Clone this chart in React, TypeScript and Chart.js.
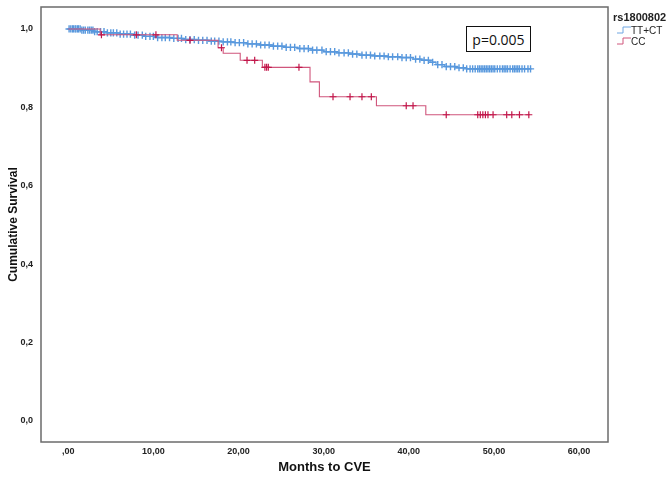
import React, { useEffect, useRef } from 'react';
import { Chart, registerables } from 'chart.js';
Chart.register(...registerables);

const xTickValues = [0, 10, 20, 30, 40, 50, 60];
const yTickValues = [0, 0.2, 0.4, 0.6, 0.8, 1.0];

const ttctTimes = [0, 1.5, 3, 4.5, 6, 7.5, 9, 10.5, 12, 13.5, 15, 16.5, 18, 19.5, 21, 22.5, 24, 25.5, 27, 28.5, 30, 31.5, 33, 34.5, 36, 37.5, 39, 40.5, 41.5, 42.5, 43.2, 44.2, 45.5, 46.8, 54.3];
const ttctSurv = [1.0, 0.997, 0.993, 0.99, 0.987, 0.984, 0.981, 0.978, 0.976, 0.973, 0.971, 0.969, 0.967, 0.965, 0.962, 0.959, 0.956, 0.953, 0.95, 0.946, 0.942, 0.939, 0.936, 0.933, 0.931, 0.929, 0.927, 0.923, 0.92, 0.915, 0.909, 0.904, 0.901, 0.898, 0.898];
const ttctCensor = [0.1, 0.3, 0.5, 0.6, 0.8, 0.9, 1.1, 1.2, 1.4, 1.6, 1.8, 2.0, 2.3, 2.5, 2.7, 2.9, 3.1, 3.4, 3.8, 4.2, 4.6, 5.0, 5.3, 5.7, 6.1, 6.5, 6.9, 7.3, 7.8, 8.2, 8.7, 9.1, 9.6, 10.0, 10.5, 11.0, 11.4, 11.9, 12.4, 12.9, 13.3, 13.8, 14.3, 14.8, 15.3, 15.8, 16.3, 16.8, 17.2, 17.7, 18.2, 18.7, 19.1, 19.6, 20.1, 20.6, 21.1, 21.6, 22.1, 22.6, 23.1, 23.6, 24.1, 24.6, 25.1, 25.6, 26.1, 26.6, 27.2, 27.7, 28.2, 28.7, 29.2, 29.8, 30.3, 30.8, 31.3, 31.8, 32.4, 32.9, 33.4, 33.9, 34.5, 35.0, 35.5, 36.0, 36.6, 37.1, 37.6, 38.1, 38.7, 39.2, 39.7, 40.2, 40.8, 41.3, 41.8, 42.3, 42.8, 43.4, 43.9, 44.4, 44.9, 45.4, 45.9, 46.4, 46.8, 47.2, 47.5, 47.8, 48.1, 48.3, 48.5, 48.7, 48.9, 49.1, 49.3, 49.5, 49.7, 49.9, 50.1, 50.4, 50.7, 51.0, 51.2, 51.4, 51.6, 51.9, 52.2, 52.4, 52.6, 52.8, 53.0, 53.3, 53.6, 54.0, 54.3];

const ccTimes = [0, 3.75, 12.8, 17.6, 18.2, 20.2, 22.8, 28.4, 29.5, 36.2, 42.0, 54.2];
const ccSurv = [1.0, 0.985, 0.971, 0.952, 0.938, 0.92, 0.902, 0.865, 0.827, 0.804, 0.781, 0.781];
const ccCensor = [3.9, 8.0, 10.3, 14.3, 18.0, 21.0, 21.9, 23.1, 23.3, 23.5, 27.1, 31.1, 33.1, 34.5, 35.6, 39.7, 40.5, 44.4, 48.1, 48.4, 48.7, 49.0, 49.3, 49.9, 51.5, 52.1, 53.0, 54.1];

const BLUE_LINE = '#6ea6e2';
const BLUE_MARK = '#5898dd';
const RED_LINE = '#d0567c';
const RED_MARK = '#c2164a';

function survAt(times: number[], surv: number[], t: number) {
  let v = surv[0];
  for (let i = 0; i < times.length; i++) {
    if (times[i] <= t) v = surv[i];
  }
  return v;
}

const framePlugin = {
  id: 'frame',
  afterDraw(chart: any) {
    const { ctx, chartArea } = chart;
    ctx.save();
    ctx.strokeStyle = '#6b6b6b';
    ctx.lineWidth = 1.5;
    ctx.strokeRect(chartArea.left, chartArea.top, chartArea.right - chartArea.left, chartArea.bottom - chartArea.top);
    ctx.restore();
  },
};

export default function App() {
  const ref = useRef<HTMLCanvasElement | null>(null);
  useEffect(() => {
    if (!ref.current) return;
    const tickFont = { family: "'Liberation Sans Narrow', 'Liberation Sans', Arial, sans-serif", size: 9, weight: 'bold' as const };
    const chart = new Chart(ref.current, {
      type: 'line',
      data: {
        datasets: [
          {
            label: 'CC censored',
            data: ccCensor.map((t) => ({ x: t, y: survAt(ccTimes, ccSurv, t) })),
            showLine: false,
            pointStyle: 'cross',
            pointRadius: 3.5,
            pointBorderWidth: 1.2,
            borderColor: RED_MARK,
            backgroundColor: RED_MARK,
            order: 0,
          },
          {
            label: 'CC',
            data: ccTimes.map((t, i) => ({ x: t, y: ccSurv[i] })),
            stepped: 'before',
            borderColor: RED_LINE,
            borderWidth: 1.1,
            pointRadius: 0,
            fill: false,
            order: 1,
          },
          {
            label: 'TT+CT censored',
            data: ttctCensor.map((t) => ({ x: t, y: survAt(ttctTimes, ttctSurv, t) })),
            showLine: false,
            pointStyle: 'cross',
            pointRadius: 3.6,
            pointBorderWidth: 1.4,
            borderColor: BLUE_MARK,
            backgroundColor: BLUE_MARK,
            order: 2,
          },
          {
            label: 'TT+CT',
            data: ttctTimes.map((t, i) => ({ x: t, y: ttctSurv[i] })),
            stepped: 'before',
            borderColor: BLUE_LINE,
            borderWidth: 1.3,
            pointRadius: 0,
            fill: false,
            order: 3,
          },
        ],
      },
      options: {
        animation: false,
        responsive: false,
        maintainAspectRatio: false,
        layout: { padding: { top: 7, right: 61, left: 0, bottom: 0 } },
        plugins: { legend: { display: false }, tooltip: { enabled: false } },
        scales: {
          x: {
            type: 'linear',
            min: -3.2,
            max: 63.4,
            grid: { display: false, drawTicks: false },
            border: { display: false },
            afterFit: (s: any) => { s.height = 39; s.paddingLeft = 0; s.paddingRight = 0; },
            afterBuildTicks: (s: any) => { s.ticks = xTickValues.map((v) => ({ value: v })); },
            ticks: {
              padding: 4,
              color: '#222',
              font: tickFont,
              maxRotation: 0,
              callback: (v: any) => (Number(v) === 0 ? ',00' : Number(v).toFixed(2).replace('.', ',')),
            },
            title: {
              display: true,
              text: 'Months to CVE',
              color: '#111',
              font: { family: "'Liberation Sans', Arial, sans-serif", size: 13, weight: 'bold' },
              padding: { top: 0, bottom: 6 },
            },
          },
          y: {
            type: 'linear',
            min: -0.054,
            max: 1.056,
            grid: { display: false, drawTicks: false },
            border: { display: false },
            afterFit: (s: any) => { s.width = 41; s.paddingTop = 0; s.paddingBottom = 0; },
            afterBuildTicks: (s: any) => { s.ticks = yTickValues.map((v) => ({ value: v })); },
            ticks: {
              padding: 8,
              color: '#222',
              font: tickFont,
              callback: (v: any) => Number(v).toFixed(1).replace('.', ','),
            },
            title: {
              display: true,
              text: 'Cumulative Survival',
              color: '#111',
              font: { family: "'Liberation Sans', Arial, sans-serif", size: 12, weight: 'bold' },
              padding: { top: 6, bottom: 0 },
            },
          },
        },
      },
      plugins: [framePlugin],
    } as any);
    return () => chart.destroy();
  }, []);

  const legendText: React.CSSProperties = {
    position: 'absolute',
    fontFamily: "'Liberation Sans', Arial, sans-serif",
    color: '#222',
    whiteSpace: 'nowrap',
    lineHeight: 1,
  };

  return (
    <div style={{ position: 'fixed', left: 0, top: 0, width: 669, height: 481, background: '#fff' }}>
      <canvas ref={ref} width={669} height={481} style={{ display: 'block' }} />
      <div
        style={{
          position: 'absolute',
          left: 466,
          top: 26,
          width: 65,
          height: 26,
          border: '1px solid #111',
          boxSizing: 'border-box',
          display: 'flex',
          alignItems: 'center',
          justifyContent: 'center',
          fontFamily: "'Open Sans', 'Liberation Sans', Arial, sans-serif",
          fontSize: 14,
          color: '#111',
          background: '#fff',
        }}
      >
        p=0.005
      </div>
      <div style={{ ...legendText, left: 613, top: 12, fontSize: 11, fontWeight: 'bold' }}>rs1800802</div>
      <svg style={{ position: 'absolute', left: 617, top: 26 }} width={14} height={8}>
        <path d="M0 7 H6 V1 H14" stroke={BLUE_LINE} strokeWidth={1} fill="none" />
      </svg>
      <div style={{ ...legendText, left: 631, top: 26, fontSize: 10 }}>TT+CT</div>
      <svg style={{ position: 'absolute', left: 617, top: 37 }} width={14} height={8}>
        <path d="M0 7 H6 V1 H14" stroke={RED_LINE} strokeWidth={1} fill="none" />
      </svg>
      <div style={{ ...legendText, left: 631, top: 37, fontSize: 10 }}>CC</div>
    </div>
  );
}
